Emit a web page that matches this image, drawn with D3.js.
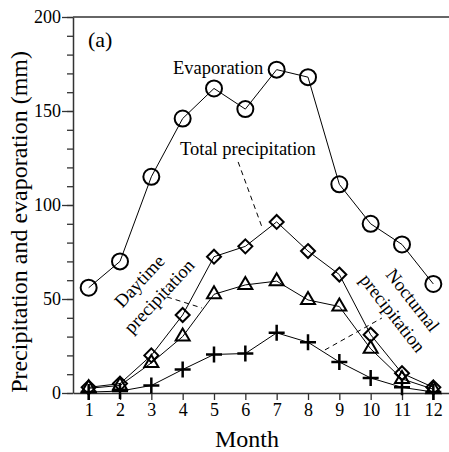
<!DOCTYPE html>
<html>
<head>
<meta charset="utf-8">
<script src="https://cdn.jsdelivr.net/npm/d3@7"></script>
<style>
  html, body { margin: 0; padding: 0; background: #fff; }
  svg { display: block; }
  text { font-family: "Liberation Serif", "Times New Roman", serif; fill: #000; }
</style>
</head>
<body>
<svg id="chart" width="449" height="452"></svg>
<script>
const months = [1, 2, 3, 4, 5, 6, 7, 8, 9, 10, 11, 12];
const evaporation = [56, 70, 115, 146, 162, 151, 172, 168, 111, 90, 79, 58];
const totalPrecip = [3, 5, 20, 41.5, 72.5, 78, 91, 75.5, 63, 31, 10.5, 3];
const daytimePrecip = [2.5, 4, 16, 30, 52.5, 57.5, 59.5, 49.5, 46, 23.5, 7.5, 2];
const nocturnalPrecip = [0.5, 1, 4, 12.5, 20.5, 21, 32, 27, 16.5, 8, 3, 0.5];
const yMajorTicks = [0, 50, 100, 150, 200];
const yMinorTicks = d3.range(0, 201, 10);

const svg = d3.select("#chart");
const x = d3.scaleLinear().domain([0.5, 12.5]).range([73, 449]);
const y = d3.scaleLinear().domain([0, 200]).range([393, 17]);

const axisColor = "#333";
const serif = "Liberation Serif, Times New Roman, serif";

// minor y ticks
const gMinor = svg.append("g").attr("transform", `translate(${x(0.5)},0)`)
  .call(d3.axisLeft(y).tickValues(yMinorTicks).tickSize(6).tickFormat(""));
gMinor.select(".domain").remove();
gMinor.selectAll("line").attr("stroke", axisColor).attr("stroke-width", 1.3);

// major y axis
const gY = svg.append("g").attr("transform", `translate(${x(0.5)},0)`)
  .call(d3.axisLeft(y).tickValues(yMajorTicks).tickSize(11).tickPadding(1).tickSizeOuter(0));
gY.select(".domain").attr("stroke", axisColor).attr("stroke-width", 1.5);
gY.selectAll("line").attr("stroke", axisColor).attr("stroke-width", 1.3);
gY.selectAll("text").attr("font-size", 18).attr("font-family", serif).attr("fill", "#000");

// x axis
const gX = svg.append("g").attr("transform", `translate(0,${y(0)})`)
  .call(d3.axisBottom(x).tickValues(months).tickSize(7).tickPadding(3).tickSizeOuter(0));
gX.select(".domain").attr("stroke", axisColor).attr("stroke-width", 1.5);
gX.selectAll("line").attr("stroke", axisColor).attr("stroke-width", 1.3);
gX.selectAll("text").attr("font-size", 18).attr("font-family", serif).attr("fill", "#000");

// top border line
svg.append("line")
  .attr("x1", x(0.5)).attr("x2", x(12.5))
  .attr("y1", y(200)).attr("y2", y(200))
  .attr("stroke", axisColor).attr("stroke-width", 1.5);

// axis titles
svg.append("text")
  .attr("transform", `translate(27,${y(91)}) rotate(-90)`)
  .attr("text-anchor", "middle").attr("font-size", 24)
  .text("Precipitation and evaporation (mm)");
svg.append("text")
  .attr("x", x(6.05)).attr("y", 447)
  .attr("text-anchor", "middle").attr("font-size", 24)
  .text("Month");

// lines
const line = (vals) => d3.line().x((d, i) => x(months[i])).y(d => y(d))(vals);
[evaporation, totalPrecip, daytimePrecip, nocturnalPrecip].forEach(vals => {
  svg.append("path").attr("d", line(vals)).attr("fill", "none")
    .attr("stroke", "#000").attr("stroke-width", 1);
});

// markers
const mk = svg.append("g").attr("fill", "none").attr("stroke", "#000").attr("stroke-width", 2);
evaporation.forEach((v, i) => {
  mk.append("circle").attr("cx", x(months[i])).attr("cy", y(v)).attr("r", 8);
});
totalPrecip.forEach((v, i) => {
  const cx = x(months[i]), cy = y(v), r = 7;
  mk.append("path").attr("d", `M${cx},${cy - r}L${cx + r},${cy}L${cx},${cy + r}L${cx - r},${cy}Z`);
});
daytimePrecip.forEach((v, i) => {
  const cx = x(months[i]), cy = y(v), h = 12, w = 7;
  mk.append("path").attr("d", `M${cx},${cy - 2 * h / 3}L${cx + w},${cy + h / 3}L${cx - w},${cy + h / 3}Z`);
});
nocturnalPrecip.forEach((v, i) => {
  const cx = x(months[i]), cy = y(v), r = 8;
  mk.append("path").attr("stroke-width", 2.5)
    .attr("d", `M${cx - r},${cy}L${cx + r},${cy}M${cx},${cy - r}L${cx},${cy + r}`);
});

// annotations
svg.append("text").attr("x", x(0.98)).attr("y", y(184)).attr("font-size", 22).text("(a)");
svg.append("text").attr("x", x(3.69)).attr("y", y(169.7)).attr("font-size", 18.5).text("Evaporation");
svg.append("text").attr("x", x(3.915)).attr("y", y(126.6)).attr("font-size", 18.5).text("Total precipitation");

const dashed = [
  [[5.77, 122.9], [6.53, 88.3]],
  [[3.5, 51.1], [4.62, 45.2]],
  [[8.54, 22.9], [10.36, 39.9]]
];
dashed.forEach(([a, b]) => {
  svg.append("line")
    .attr("x1", x(a[0])).attr("y1", y(a[1]))
    .attr("x2", x(b[0])).attr("y2", y(b[1]))
    .attr("stroke", "#000").attr("stroke-width", 1).attr("stroke-dasharray", "5,4");
});

const rotLabels = [
  { t: "Daytime", m: 2.616, v: 59.6, a: -47 },
  { t: "precipitation", m: 3.245, v: 51.6, a: -47 },
  { t: "Nocturnal", m: 11.35, v: 49.5, a: 52 },
  { t: "precipitation", m: 10.71, v: 42.6, a: 52 }
];
rotLabels.forEach(d => {
  svg.append("text")
    .attr("transform", `translate(${x(d.m)},${y(d.v)}) rotate(${d.a})`)
    .attr("text-anchor", "middle").attr("dy", "0.35em").attr("font-size", 18.5)
    .text(d.t);
});
</script>
</body>
</html>
